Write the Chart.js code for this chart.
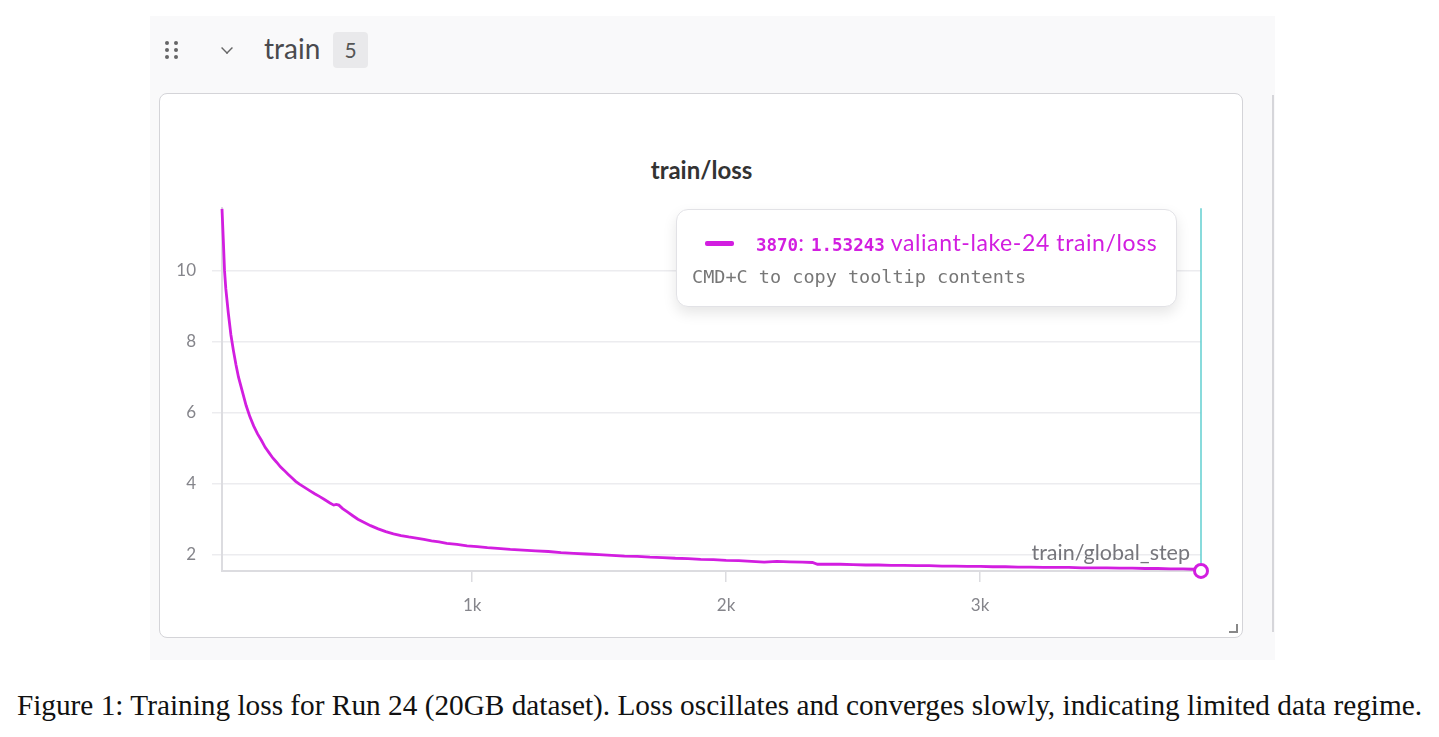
<!DOCTYPE html>
<html lang="en">
<head>
  <meta charset="UTF-8" />
  <title>train/loss</title>
  <script src="https://cdn.jsdelivr.net/npm/chart.js"></script>
  <style>
    html, body { margin: 0; padding: 0; background: #fff; width: 1439px; height: 737px; overflow: hidden; }
    body { position: relative; font-family: Lato, "Noto Sans", sans-serif; }
    #section { position: absolute; left: 150px; top: 16px; width: 1125px; height: 644px; background: #f9f9fa; }
    #nextPanel { position: absolute; left: 1272px; top: 95px; width: 2px; height: 537px; background: #d6d6da; }
    #grip { position: absolute; left: 165px; top: 41px; width: 16px; height: 18px; }
    #grip span { position: absolute; width: 4px; height: 4px; border-radius: 2px; background: #666; }
    #chev { position: absolute; left: 221px; top: 42px; width: 10px; height: 10px; border-right: 2px solid #666; border-bottom: 2px solid #666; transform: rotate(45deg) scale(0.7); }
    #secTitle { position: absolute; left: 264px; top: 31px; font-size: 28px; color: #4a4a4e; }
    #badge { position: absolute; left: 333px; top: 32px; width: 35px; height: 36px; border-radius: 4px; background: #e9e9eb; color: #555; font-size: 21px; text-align: center; line-height: 36px; }
    #panel { position: absolute; left: 159px; top: 93px; width: 1082px; height: 543px; background: #fff; border: 1.5px solid #d4d4d8; border-radius: 8px; }
    #resize { position: absolute; left: 1229px; top: 624px; width: 7px; height: 7px; border-right: 2px solid #888; border-bottom: 2px solid #888; }
    #chartTitle { position: absolute; left: 160px; width: 1083px; top: 155px; text-align: center; font-weight: bold; font-size: 24px; color: #333; }
    #wrap { position: absolute; left: 160px; top: 182px; width: 1083px; height: 448px; }
    #tip { position: absolute; left: 676px; top: 209px; width: 499px; height: 96px; background: #fff; border: 1px solid #e2e2e6; border-radius: 12px; box-shadow: 0 6px 14px rgba(0,0,0,0.10); }
    #tipDash { position: absolute; left: 28px; top: 31px; width: 29px; height: 5px; border-radius: 2px; background: #d21ee0; }
    #tipLine { position: absolute; left: 79px; top: 18px; font-size: 23px; color: #d21ee0; white-space: nowrap; letter-spacing: 0.6px; }
    #tipLine b { font-family: "DejaVu Sans Mono", monospace; font-size: 17.5px; letter-spacing: 0; }
    #tipHint { position: absolute; left: 15px; top: 56px; font-family: "DejaVu Sans Mono", monospace; font-size: 18.5px; color: #777; white-space: nowrap; }
    #caption { position: absolute; left: 0; width: 1439px; top: 689px; text-align: center; font-family: "Liberation Serif", "Times New Roman", serif; font-size: 29.3px; color: #111; white-space: nowrap; }
  </style>
</head>
<body>
  <div id="section"></div>
  <div id="nextPanel"></div>
  <div id="grip">
    <span style="left:0;top:0"></span><span style="left:9px;top:0"></span>
    <span style="left:0;top:7px"></span><span style="left:9px;top:7px"></span>
    <span style="left:0;top:14px"></span><span style="left:9px;top:14px"></span>
  </div>
  <div id="chev"></div>
  <div id="secTitle">train</div>
  <div id="badge">5</div>
  <div id="panel"></div>
  <div id="resize"></div>
  <div id="chartTitle">train/loss</div>
  <div id="wrap"><canvas id="lossChart"></canvas></div>
  <div id="tip">
    <div id="tipDash"></div>
    <div id="tipLine"><b>3870</b>: <b>1.53243</b> valiant-lake-24 train/loss</div>
    <div id="tipHint">CMD+C to copy tooltip contents</div>
  </div>
  <div id="caption">Figure 1: Training loss for Run 24 (20GB dataset). Loss oscillates and converges slowly, indicating limited data regime.</div>

  <script>
    // global_step values and the train/loss
    const steps = [
      15, 20, 25, 30, 40, 50, 60, 70, 80, 95,
      110, 125, 140, 155, 170, 185, 200, 215, 230, 245,
      260, 275, 290, 305, 320, 340, 360, 380, 400, 420,
      440, 455, 465, 475, 490, 510, 530, 550, 575, 600,
      630, 660, 690, 720, 750, 780, 810, 840, 870, 900,
      940, 980, 1020, 1060, 1100, 1150, 1200, 1250, 1300, 1350,
      1400, 1450, 1500, 1550, 1600, 1650, 1700, 1750, 1800, 1850,
      1900, 1950, 2000, 2050, 2100, 2150, 2200, 2250, 2300, 2340,
      2360, 2400, 2450, 2500, 2550, 2600, 2650, 2700, 2750, 2800,
      2850, 2900, 2950, 3000, 3050, 3100, 3150, 3200, 3250, 3300,
      3350, 3400, 3450, 3500, 3550, 3600, 3650, 3700, 3750, 3800,
      3840, 3870
    ];
    const loss = [
      11.75, 10.9, 10.0, 9.5, 8.8, 8.2, 7.75, 7.35, 7.0, 6.6,
      6.2, 5.88, 5.62, 5.4, 5.22, 5.02, 4.87, 4.72, 4.6, 4.47,
      4.37, 4.26, 4.16, 4.06, 3.98, 3.89, 3.80, 3.71, 3.63, 3.54,
      3.45, 3.39, 3.41, 3.39, 3.29, 3.19, 3.09, 2.99, 2.9, 2.81,
      2.72, 2.64, 2.58, 2.53, 2.49, 2.46, 2.42, 2.38, 2.35, 2.31,
      2.28, 2.24, 2.22, 2.19, 2.17, 2.14, 2.12, 2.1, 2.08, 2.05,
      2.03, 2.01, 1.99, 1.97, 1.95, 1.94, 1.92, 1.91, 1.89, 1.88,
      1.86, 1.85, 1.83, 1.82, 1.8, 1.78, 1.8, 1.79, 1.78, 1.77,
      1.72, 1.72, 1.72, 1.71, 1.7, 1.7, 1.69, 1.69, 1.68, 1.68,
      1.67, 1.67, 1.66, 1.66, 1.65, 1.65, 1.64, 1.64, 1.63, 1.63,
      1.63, 1.62, 1.62, 1.62, 1.61, 1.61, 1.6, 1.6, 1.59, 1.59,
      1.58, 1.53243
    ];
    const yTicks = [2, 4, 6, 8, 10];
    const xTicks = [1000, 2000, 3000];
    const xLabels = ['1k', '2k', '3k'];
    const hoverStep = 3870;

    const lineColor = '#d21ee0';
    const lastIdx = steps.length - 1;

    // cyan hover line and x axis name
    const overlay = {
      id: 'overlay',
      beforeDatasetsDraw(chart) {
        const { ctx, chartArea, scales } = chart;
        const x = scales.x.getPixelForValue(hoverStep);
        ctx.save();
        ctx.strokeStyle = '#62cfd0';
        ctx.lineWidth = 1.5;
        ctx.beginPath();
        ctx.moveTo(x, chartArea.top);
        ctx.lineTo(x, chartArea.bottom);
        ctx.stroke();
        ctx.fillStyle = '#76767c';
        ctx.font = '21.5px Lato, "Noto Sans", sans-serif';
        ctx.textAlign = 'right';
        ctx.textBaseline = 'alphabetic';
        ctx.fillText('train/global_step', x - 11, chartArea.bottom - 11);
        ctx.restore();
      }
    };

    new Chart(document.getElementById('lossChart'), {
      type: 'line',
      data: {
        datasets: [{
          label: 'valiant-lake-24 train/loss',
          data: steps.map((s, i) => ({ x: s, y: loss[i] })),
          borderColor: lineColor,
          borderWidth: 2.8,
          tension: 0,
          clip: false,
          pointRadius: ctx => ctx.dataIndex === lastIdx ? 6.5 : 0,
          pointBackgroundColor: '#fff',
          pointBorderColor: lineColor,
          pointBorderWidth: 3
        }]
      },
      options: {
        responsive: true,
        maintainAspectRatio: false,
        animation: false,
        layout: { padding: { top: 10, right: 42, left: 0, bottom: 0 } },
        plugins: { legend: { display: false }, tooltip: { enabled: false } },
        scales: {
          x: {
            type: 'linear',
            min: 15,
            max: 3870,
            afterFit: s => { s.height = 59; },
            afterBuildTicks: s => { s.ticks = xTicks.map(v => ({ value: v })); },
            grid: { drawOnChartArea: false, drawTicks: true, tickLength: 11, color: '#dcdce0', lineWidth: 1.5 },
            border: { color: '#dcdce0', width: 2 },
            ticks: {
              color: '#85858b',
              font: { family: 'Lato', size: 17 },
              padding: 13,
              maxRotation: 0,
              callback: v => xLabels[xTicks.indexOf(v)]
            }
          },
          y: {
            min: 1.53,
            max: 11.77,
            afterFit: s => { s.width = 62; },
            afterBuildTicks: s => { s.ticks = yTicks.map(v => ({ value: v })); },
            grid: { color: '#ececef', lineWidth: 1.5, tickLength: 10 },
            border: { color: '#dcdce0', width: 2 },
            ticks: {
              color: '#85858b',
              font: { family: 'Lato', size: 17 },
              padding: 16
            }
          }
        }
      },
      plugins: [overlay]
    });
  </script>
</body>
</html>
